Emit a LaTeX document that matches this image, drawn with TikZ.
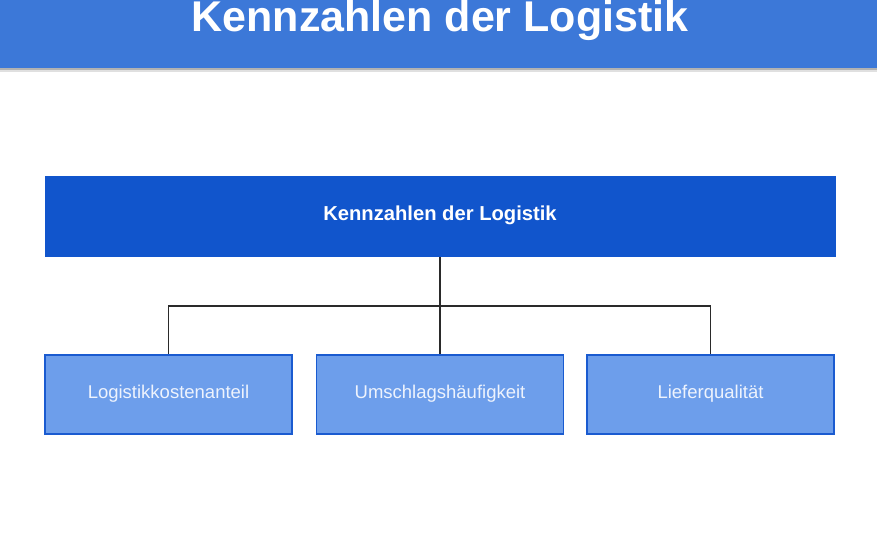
\documentclass[tikz,border=0pt]{standalone}
\usepackage{fontspec}
\setmainfont{Liberation Sans}
\definecolor{hdrblue}{HTML}{3C78D8}
\definecolor{mainblue}{HTML}{1155CC}
\definecolor{childfill}{HTML}{6D9EEB}
\definecolor{childborder}{HTML}{1A5BD0}
\definecolor{childtext}{HTML}{EEF3FD}
\definecolor{linecol}{HTML}{2A2A2A}
\tikzset{
  hdrband/.style={rectangle, fill=hdrblue, draw=none, inner sep=0pt, minimum width=877pt, minimum height=68pt},
  hdrtitle/.style={text=white, font=\bfseries\fontsize{43}{46}\selectfont, inner sep=0pt, anchor=base},
  mainbox/.style={rectangle, fill=mainblue, draw=none, inner sep=0pt, minimum width=791pt, minimum height=81pt, text=white, font=\bfseries\fontsize{20.2}{24}\selectfont, text height=0.75em, text depth=0pt},
  childbox/.style={rectangle, fill=childfill, draw=childborder, line width=1.6pt, inner sep=0pt, minimum width=247pt, minimum height=79pt, text=childtext, font=\fontsize{18.5}{22}\selectfont, text height=0.72em, text depth=0pt},
  conn/.style={draw=linecol, line width=1.4pt}
}
\begin{document}
\begin{tikzpicture}[x=1pt,y=-1pt]
\useasboundingbox (0,0) rectangle (880,540);
\fill[white] (0,0) rectangle (880,540);
% header shadow
\fill[black!30] (0,68) rectangle (877,70);
\fill[black!12] (0,70) rectangle (877,72);
\node[hdrband] (hdr) at (438.5,34) {};
\node[hdrtitle] (title) at (440,32) {Kennzahlen der Logistik};
% main box
\node[mainbox] (main) at (440,216.5) {Kennzahlen der Logistik};
% child boxes
\node[childbox] (c1) at (168.5,394.5) {Logistikkostenanteil};
\node[childbox] (c2) at (440,394.5) {Umschlagshäufigkeit};
\node[childbox] (c3) at (710.5,394.5) {Lieferqualität};
\coordinate (bus) at (440,306);
% connectors
\draw[conn] (main.south) -- (main.south |- bus);
\draw[conn] (c1.north) -- (c1.north |- bus) -- (c3.north |- bus) -- (c3.north);
\draw[conn] (c2.north) -- (c2.north |- bus);
\end{tikzpicture}
\end{document}
